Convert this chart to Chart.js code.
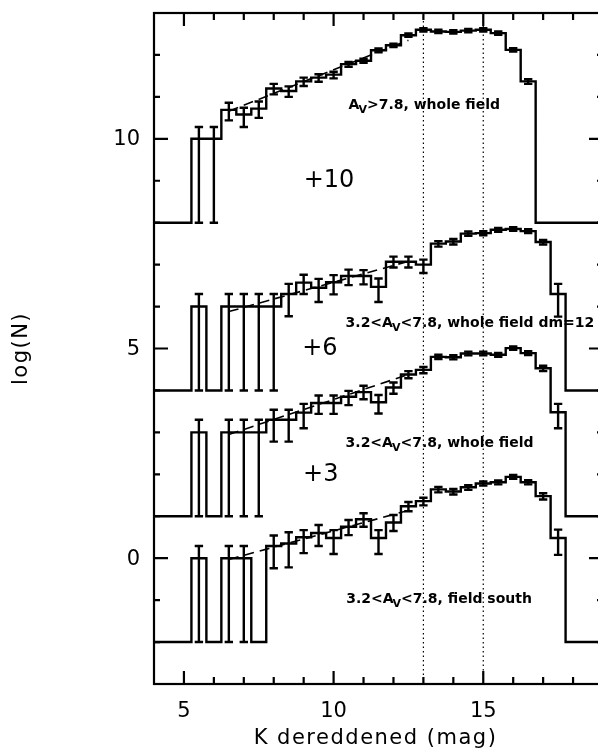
<!DOCTYPE html>
<html>
<head>
<meta charset="utf-8">
<script src="https://cdn.jsdelivr.net/npm/chart.js@4.4.1/dist/chart.umd.min.js"></script>
<style>
html, body { margin: 0; padding: 0; background: #fff; overflow: hidden; }
#wrap { width: 620px; height: 751px; }
</style>
</head>
<body>
<div id="wrap"><canvas id="lf" width="620" height="751"></canvas></div>
<script>
// bin centres, K dereddened (mag), bins are 0.5 mag wide
const kBins = [5.5, 6.0, 6.5, 7.0, 7.5, 8.0, 8.5, 9.0, 9.5, 10.0, 10.5, 11.0, 11.5,
               12.0, 12.5, 13.0, 13.5, 14.0, 14.5, 15.0, 15.5, 16.0, 16.5, 17.0, 17.5];

// log(N) in each bin (null = empty bin), without the vertical offset
const logHigh  = [0, 0, 0.69, 0.58, 0.72, 1.2, 1.14, 1.37, 1.46, 1.53, 1.78, 1.86, 2.11,
                  2.23, 2.47, 2.6, 2.56, 2.55, 2.58, 2.6, 2.52, 2.12, 1.37, null, null];
const logWide  = [0, null, 0, 0, 0, 0, 0.3, 0.57, 0.45, 0.58, 0.73, 0.73, 0.47,
                  1.07, 1.07, 1.0, 1.5, 1.55, 1.74, 1.75, 1.83, 1.85, 1.8, 1.54, 0.3];
const logWhole = [0, null, 0, 0, 0, 0.3, 0.3, 0.47, 0.7, 0.7, 0.85, 0.96, 0.72,
                  1.07, 1.38, 1.49, 1.8, 1.79, 1.88, 1.88, 1.85, 2.01, 1.89, 1.53, 0.48];
const logSouth = [0, null, 0, 0, null, 0.29, 0.35, 0.5, 0.6, 0.48, 0.75, 0.93, 0.48,
                  0.85, 1.24, 1.36, 1.64, 1.59, 1.69, 1.78, 1.81, 1.94, 1.81, 1.48, 0.48];

// error bars: upper / lower length (log units)
const upHigh  = [.28, .28, .17, .16, .17, .11, .11, .09, .08, .07, .05, .05, .045,
                 .04, .04, .04, .04, .04, .04, .04, .04, .04, .05, null, null];
const dnHigh  = [2, 2, .25, .3, .22, .14, .14, .11, .1, .09, .06, .05, .045,
                 .04, .04, .04, .04, .04, .04, .04, .04, .04, .06, null, null];
const upWide  = [.3, null, .3, .3, .3, .3, .24, .19, .21, .17, .15, .14, .2,
                 .12, .12, .12, .06, .06, .05, .05, .045, .045, .045, .05, .24];
const dnWide  = [2, null, 2, 2, 2, 2, .53, .27, .34, .29, .22, .2, .36,
                 .14, .14, .2, .07, .07, .05, .05, .045, .045, .045, .06, .54];
const upWhole = [.3, null, .3, .3, .3, .24, .24, .21, .18, .18, .14, .15, .17,
                 .12, .08, .07, .05, .05, .045, .045, .045, .04, .045, .06, .2];
const dnWhole = [2, null, 2, 2, 2, .52, .52, .37, .26, .26, .2, .17, .27,
                 .15, .09, .08, .05, .05, .045, .045, .045, .04, .045, .07, .38];
const upSouth = [.29, null, .29, .29, null, .25, .27, .17, .19, .19, .16, .14, .19,
                 .18, .1, .08, .06, .06, .05, .05, .045, .045, .05, .07, .2];
const dnSouth = [2, null, 2, 2, null, .53, .57, .38, .31, .38, .2, .18, .38,
                 .2, .12, .1, .07, .07, .06, .05, .05, .045, .05, .08, .4];

// straight-line fits (dashed)
const fitK     = [6.5, 12.5];
const fitHigh  = [0.66, 2.35];
const fitWide  = [-0.12, 1.08];
const fitWhole = [-0.05, 1.38];
const fitSouth = [-0.03, 1.14];

// vertical shift applied to each histogram
const offsets = [10, 6, 3, 0];
const offsetLabels = ['+10', '+6', '+3'];

// completeness limits
const limitK = [13, 15];

// axis ticks
const xTicks = [5, 6, 7, 8, 9, 10, 11, 12, 13, 14, 15, 16, 17, 18];
const xMajor = [5, 10, 15];
const yTicks = [-2, -1, 0, 1, 2, 3, 4, 5, 6, 7, 8, 9, 10, 11, 12];
const yMajor = [0, 5, 10];

const FLOOR = -2;   // empty bins drawn at log(N) = -2
const CAP = 0.14;   // half width of error bar caps (mag)

function histPoints(vals, off) {
	var pts = [{x: 4, y: FLOOR + off}, {x: 5, y: FLOOR + off}];
	for (let i = 0; i < kBins.length; i++) {
		pts.push({x: kBins[i], y: (vals[i] == null ? FLOOR : vals[i]) + off});
	}
	pts.push({x: 18, y: FLOOR + off});
	pts.push({x: 19, y: FLOOR + off});
	return pts;
}

function errPoints(vals, up, dn, off) {
	var pts = [];
	for (let i = 0; i < kBins.length; i++) {
		if (vals[i] == null) continue;
		const c = kBins[i];
		const hi = vals[i] + off + up[i];
		const lo = vals[i] + off - dn[i];
		pts.push({x: c, y: lo}, {x: c, y: hi}, {x: c, y: null});
		pts.push({x: c - CAP, y: hi}, {x: c + CAP, y: hi}, {x: c, y: null});
		pts.push({x: c - CAP, y: lo}, {x: c + CAP, y: lo}, {x: c, y: null});
	}
	return pts;
}

const series = [
	[logHigh, upHigh, dnHigh, fitHigh],
	[logWide, upWide, dnWide, fitWide],
	[logWhole, upWhole, dnWhole, fitWhole],
	[logSouth, upSouth, dnSouth, fitSouth]
];

var datasets = [];

limitK.forEach(k => {
	datasets.push({
		data: [{x: k, y: -3}, {x: k, y: 13}],
		borderColor: '#000', borderWidth: 1.2, borderDash: [1.5, 3], pointRadius: 0
	});
});

series.forEach((s, j) => {
	const off = offsets[j];
	datasets.push({
		data: histPoints(s[0], off),
		stepped: 'middle',
		borderColor: '#000', borderWidth: 2.4, pointRadius: 0
	});
	datasets.push({
		data: errPoints(s[0], s[1], s[2], off),
		borderColor: '#000', borderWidth: 2.4, pointRadius: 0, spanGaps: false
	});
	datasets.push({
		data: fitK.map((k, i) => ({x: k, y: s[3][i] + off})),
		borderColor: '#000', borderWidth: 1.6, borderDash: [10, 6], pointRadius: 0
	});
});

// frame with inward ticks on all four sides
const framePlugin = {
	id: 'frame',
	afterDatasetsDraw(chart) {
		const ctx = chart.ctx;
		const {left, right, top, bottom} = chart.chartArea;
		const x = chart.scales.x, y = chart.scales.y;
		ctx.save();
		ctx.strokeStyle = '#000';
		ctx.lineWidth = 2.2;
		ctx.strokeRect(left, top, right - left, bottom - top);
		ctx.beginPath();
		xTicks.forEach(v => {
			const px = x.getPixelForValue(v);
			const len = xMajor.includes(v) ? 13 : 7;
			ctx.moveTo(px, bottom); ctx.lineTo(px, bottom - len);
			ctx.moveTo(px, top); ctx.lineTo(px, top + len);
		});
		yTicks.forEach(v => {
			const py = y.getPixelForValue(v);
			const len = yMajor.includes(v) ? 14 : 6;
			ctx.moveTo(left, py); ctx.lineTo(left + len, py);
			ctx.moveTo(right, py); ctx.lineTo(right - len, py);
		});
		ctx.stroke();
		ctx.restore();
	}
};

// label positions (data coordinates) for the curve captions
const notes = [
	{k: 10.5,  v: 10.72, pre: '',     post: '>7.8, whole field'},
	{k: 10.4,  v: 5.51,  pre: '3.2<', post: '<7.8, whole field dm=12'},
	{k: 10.4,  v: 2.65,  pre: '3.2<', post: '<7.8, whole field'},
	{k: 10.42, v: -1.06, pre: '3.2<', post: '<7.8, field south'}
];
const offsetPos = [{k: 9.0, v: 9}, {k: 8.95, v: 5}, {k: 8.98, v: 2}];

const textPlugin = {
	id: 'texts',
	afterDraw(chart) {
		const ctx = chart.ctx;
		const {left, right, top, bottom} = chart.chartArea;
		const x = chart.scales.x, y = chart.scales.y;
		ctx.save();
		ctx.fillStyle = '#000';

		// tick labels
		ctx.font = '21px "DejaVu Sans"';
		ctx.textAlign = 'center';
		ctx.textBaseline = 'middle';
		xMajor.forEach(v => ctx.fillText(String(v), x.getPixelForValue(v), bottom + 28));
		ctx.textAlign = 'right';
		yMajor.forEach(v => ctx.fillText(String(v), left - 14, y.getPixelForValue(v) + 1));

		// axis titles
		ctx.font = '21px "DejaVu Sans"';
		ctx.letterSpacing = '1.5px';
		ctx.textAlign = 'center';
		ctx.fillText('K dereddened (mag)', (left + right) / 2 - 3, bottom + 55);
		ctx.save();
		ctx.translate(22, y.getPixelForValue(5));
		ctx.rotate(-Math.PI / 2);
		ctx.fillText('log(N)', 0, 0);
		ctx.restore();
		ctx.letterSpacing = '0px';

		// offsets
		ctx.font = '24px "DejaVu Sans"';
		ctx.textAlign = 'left';
		offsetLabels.forEach((t, i) => {
			ctx.fillText(t, x.getPixelForValue(offsetPos[i].k), y.getPixelForValue(offsetPos[i].v));
		});

		// captions with subscript V
		ctx.textBaseline = 'alphabetic';
		notes.forEach(n => {
			let px = x.getPixelForValue(n.k);
			const py = y.getPixelForValue(n.v);
			ctx.font = 'bold 14px "DejaVu Sans"';
			ctx.fillText(n.pre + 'A', px, py);
			px += ctx.measureText(n.pre + 'A').width;
			ctx.font = 'bold 11px "DejaVu Sans"';
			ctx.fillText('V', px - 1, py + 4);
			px += ctx.measureText('V').width - 1;
			ctx.font = 'bold 14px "DejaVu Sans"';
			ctx.fillText(n.post, px, py);
		});
		ctx.restore();
	}
};

new Chart(document.getElementById('lf'), {
	type: 'line',
	data: { datasets: datasets },
	options: {
		responsive: false,
		animation: false,
		layout: { padding: { left: 154, right: 17, top: 13, bottom: 67 } },
		plugins: { legend: { display: false }, tooltip: { enabled: false } },
		elements: { line: { tension: 0, borderCapStyle: 'butt' } },
		scales: {
			x: { type: 'linear', min: 4, max: 19, display: false },
			y: { type: 'linear', min: -3, max: 13, display: false }
		}
	},
	plugins: [framePlugin, textPlugin]
});
</script>
</body>
</html>
